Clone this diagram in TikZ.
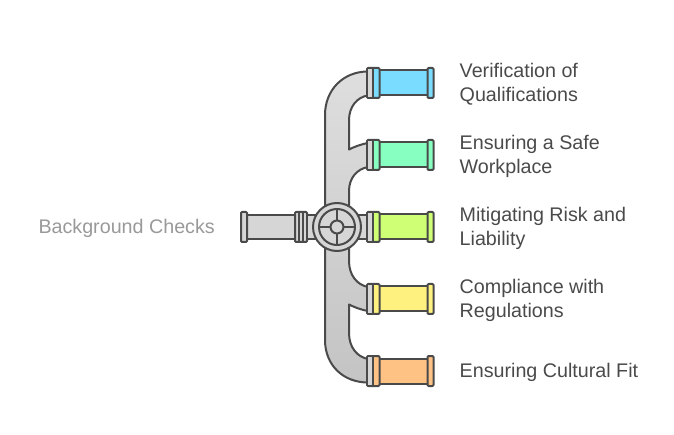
\documentclass[tikz,border=0pt]{standalone}
\usepackage{fontspec}
\setmainfont{Liberation Sans}
\definecolor{linegray}{HTML}{4A4A4A}
\definecolor{pipetop}{HTML}{DEDEDE}
\definecolor{pipebottom}{HTML}{C4C4C4}
\definecolor{pipegray}{HTML}{D6D6D6}
\definecolor{textgray}{HTML}{4A4A4A}
\definecolor{titlegray}{HTML}{999999}
\definecolor{pipeblue}{HTML}{7ADDFF}
\definecolor{pipemint}{HTML}{86FFC1}
\definecolor{pipelime}{HTML}{CFFF75}
\definecolor{pipeyellow}{HTML}{FFF17F}
\definecolor{pipeorange}{HTML}{FFC285}
\tikzset{
  pipeline/.style={draw=linegray,line width=2pt,line join=round},
  flange/.style={pipeline,rounded corners=1pt},
  label/.style={text=textgray,font=\fontsize{19.7}{24}\selectfont,align=left,anchor=west,inner sep=0pt},
  title/.style={text=titlegray,font=\fontsize{19.7}{24}\selectfont,anchor=east,inner sep=0pt}
}
\begin{document}
\begin{tikzpicture}[x=1pt,y=-1pt]
    \useasboundingbox (0,0) rectangle (674,435);

    % Main pipe with its branches
    \path[pipeline,top color=pipetop,bottom color=pipebottom]
      (368,71.5) .. controls (343,71.5) and (325,90) .. (325,115)
      -- (325,340) .. controls (325,365) and (343,382.5) .. (368,382.5)
      -- (368,359) .. controls (357,357) and (349,347) .. (349,333)
      -- (349,304.5) .. controls (354,307) and (360,309.5) .. (368,311)
      -- (368,287) .. controls (357,285) and (349,275) .. (349,261)
      -- (349,191) .. controls (349,178) and (357,169) .. (368,167)
      -- (368,143) .. controls (360,144.5) and (354,147) .. (349,149.5)
      -- (349,120) .. controls (349,107) and (357,97) .. (368,95.5)
      -- cycle;

    % Left inlet
    \draw[pipeline,fill=pipegray] (246,215) rectangle (296,239);
    \draw[flange,fill=pipegray] (241,212) rectangle (247,242);
    \draw[flange,fill=pipegray] (295,212) rectangle (307,242);
    \draw[pipeline] (299,212) -- (299,242);
    \draw[pipeline] (303,212) -- (303,242);
    \draw[pipeline,fill=pipegray] (307,215) rectangle (367,239);

    % Outlets
    \foreach \rowy/\rowcolor in {83/pipeblue,155/pipemint,227/pipelime,299/pipeyellow,371/pipeorange} {
      \draw[pipeline,fill=\rowcolor] (378,\rowy-12.5) rectangle (428,\rowy+12.5);
      \draw[flange,fill=\rowcolor] (427.5,\rowy-15) rectangle (433.5,\rowy+15);
      \draw[flange,fill=\rowcolor] (367,\rowy-15) rectangle (379.5,\rowy+15);
      \fill[pipegray] (368,\rowy-14) rectangle (371.5,\rowy+14);
      \draw[pipeline] (372.5,\rowy-15) -- (372.5,\rowy+15);
    }

    % Valve
    \draw[pipeline,fill=pipegray] (337,227) circle (24);
    \draw[pipeline] (337,227) circle (18);
    \draw[pipeline] (319,227) -- (354.5,227);
    \draw[pipeline] (337,209) -- (337,245);
    \draw[pipeline,fill=pipegray] (337,227) circle (6.5);

    % Labels
    \node[title] (title) at (215,228.5) {Background Checks};
    \node[label] (verify) at (459.5,84.5) {Verification of\\Qualifications};
    \node[label] (safe) at (459.5,156.5) {Ensuring a Safe\\Workplace};
    \node[label] (risk) at (459.5,228.5) {Mitigating Risk and\\Liability};
    \node[label] (comply) at (459.5,300.5) {Compliance with\\Regulations};
    \node[label] (culture) at (459.5,372.5) {Ensuring Cultural Fit};
\end{tikzpicture}
\end{document}
